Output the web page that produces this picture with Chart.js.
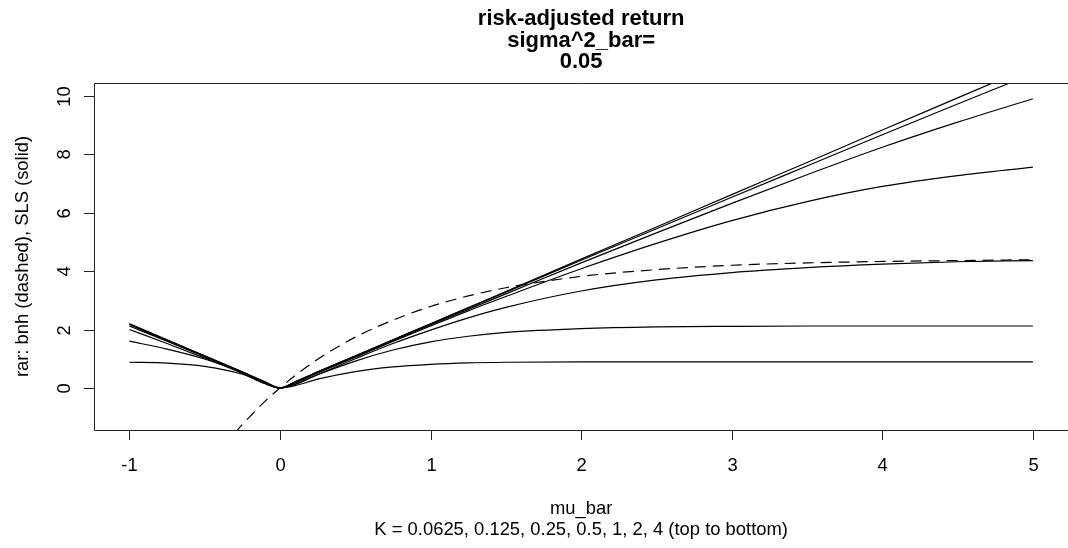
<!DOCTYPE html>
<html>
<head>
<meta charset="utf-8">
<script src="https://cdn.jsdelivr.net/npm/chart.js@4/dist/chart.umd.min.js"></script>
<style>
html,body{margin:0;padding:0;background:#fff;}
#wrap{width:1068px;height:548px;}
</style>
</head>
<body>
<div id="wrap"><canvas id="c" width="1068" height="548"></canvas></div>
<script>
// ---- data ----
const mu = [-1, -0.75, -0.5, -0.25, -0.1, 0, 0.1, 0.25, 0.5, 0.75, 1, 1.25, 1.5, 2, 2.5, 3, 3.5, 4, 4.5, 5];
const slsK0625 = [2.20, 1.65, 1.10, 0.55, 0.21, 0, 0.21, 0.55, 1.10, 1.65, 2.20, 2.75, 3.30, 4.41, 5.51, 6.62, 7.72, 8.83, 9.93, 11.03];
const slsK125  = [2.19, 1.64, 1.09, 0.54, 0.20, 0, 0.20, 0.54, 1.09, 1.64, 2.19, 2.73, 3.28, 4.37, 5.45, 6.53, 7.60, 8.67, 9.72, 10.76];
const slsK25   = [2.17, 1.62, 1.08, 0.54, 0.19, 0, 0.19, 0.54, 1.08, 1.62, 2.16, 2.69, 3.22, 4.28, 5.31, 6.32, 7.30, 8.24, 9.10, 9.90];
const slsK05   = [2.12, 1.60, 1.07, 0.52, 0.18, 0, 0.18, 0.51, 1.05, 1.59, 2.12, 2.64, 3.13, 4.08, 4.95, 5.73, 6.38, 6.90, 7.27, 7.56];
const slsK1    = [2.00, 1.52, 1.02, 0.50, 0.15, 0, 0.13, 0.46, 1.00, 1.52, 1.98, 2.40, 2.76, 3.32, 3.70, 3.95, 4.12, 4.24, 4.32, 4.36];
const slsK2    = [1.60, 1.33, 0.99, 0.52, 0.15, 0, 0.12, 0.45, 0.92, 1.30, 1.58, 1.77, 1.90, 2.03, 2.09, 2.11, 2.12, 2.12, 2.12, 2.12];
const slsK4    = [0.88, 0.85, 0.74, 0.47, 0.16, 0, 0.08, 0.30, 0.56, 0.72, 0.81, 0.86, 0.88, 0.89, 0.89, 0.89, 0.89, 0.89, 0.89, 0.89];
const bnhMu = [-0.3, -0.25, -0.2, -0.1, 0, 0.1, 0.25, 0.5, 0.75, 1, 1.25, 1.5, 2, 2.5, 3, 3.5, 4, 4.5, 5];
const bnh   = [-1.54, -1.25, -0.98, -0.46, 0, 0.42, 0.98, 1.74, 2.32, 2.79, 3.15, 3.43, 3.82, 4.05, 4.20, 4.28, 4.33, 4.36, 4.39];
const xTicks = [-1, 0, 1, 2, 3, 4, 5];
const yTicks = [0, 2, 4, 6, 8, 10];
const titleLines = ["risk-adjusted return", "sigma^2_bar=", "0.05"];
const xTitle = "mu_bar";
const xSub = "K = 0.0625, 0.125, 0.25, 0.5, 1, 2, 4 (top to bottom)";
const yTitle = "rar: bnh (dashed), SLS (solid)";

const FONT = '"Liberation Sans", Arial, Helvetica, sans-serif';
const pts = (xs, ys) => xs.map((x, i) => ({x: x, y: ys[i]}));
const solid = (ys) => ({
  data: pts(mu, ys), borderColor: '#000', borderWidth: 1.2, pointRadius: 0,
  cubicInterpolationMode: 'monotone', fill: false
});

const rPlot = {
  id: 'rPlot',
  afterDraw(chart) {
    const ctx = chart.ctx, a = chart.chartArea;
    const xs = chart.scales.x, ys = chart.scales.y;
    ctx.save();
    ctx.strokeStyle = '#222';
    ctx.lineWidth = 1;
    // box
    ctx.beginPath();
    ctx.rect(Math.round(a.left) + 0.5, Math.round(a.top) + 0.5, 2000, Math.round(a.bottom - a.top));
    ctx.stroke();
    ctx.fillStyle = '#000';
    ctx.font = '18.4px ' + FONT;
    // x ticks
    ctx.textAlign = 'center';
    ctx.textBaseline = 'alphabetic';
    xTicks.forEach(v => {
      const px = Math.round(xs.getPixelForValue(v)) + 0.5;
      ctx.beginPath();
      ctx.moveTo(px, a.bottom);
      ctx.lineTo(px, a.bottom + 10);
      ctx.stroke();
      ctx.fillText(String(v), px, 471);
    });
    // y ticks
    yTicks.forEach(v => {
      const py = Math.round(ys.getPixelForValue(v)) + 0.5;
      ctx.beginPath();
      ctx.moveTo(a.left, py);
      ctx.lineTo(a.left - 10, py);
      ctx.stroke();
      ctx.save();
      ctx.translate(70, py);
      ctx.rotate(-Math.PI / 2);
      ctx.textAlign = 'center';
      ctx.fillText(String(v), 0, 0);
      ctx.restore();
    });
    // axis titles
    const cx = (xs.getPixelForValue(-1.24) + xs.getPixelForValue(5.24)) / 2;
    ctx.textAlign = 'center';
    ctx.fillText(xTitle, cx, 514);
    ctx.fillText(xSub, cx, 535);
    ctx.save();
    ctx.translate(28, (a.top + a.bottom) / 2);
    ctx.rotate(-Math.PI / 2);
    ctx.fillText(yTitle, 0, 0);
    ctx.restore();
    // main title
    ctx.font = 'bold 22px ' + FONT;
    const tb = [25, 47, 68];
    titleLines.forEach((t, i) => ctx.fillText(t, cx, tb[i]));
    ctx.restore();
  }
};

new Chart(document.getElementById('c'), {
  type: 'line',
  data: {
    datasets: [
      solid(slsK0625), solid(slsK125), solid(slsK25), solid(slsK05),
      solid(slsK1), solid(slsK2), solid(slsK4),
      { data: pts(bnhMu, bnh), borderColor: '#000', borderWidth: 1.2, borderDash: [11, 7],
        pointRadius: 0, cubicInterpolationMode: 'monotone', fill: false }
    ]
  },
  options: {
    responsive: false,
    animation: false,
    layout: { padding: { left: 94, right: 0, top: 83, bottom: 118 } },
    plugins: { legend: { display: false }, tooltip: { enabled: false }, title: { display: false } },
    scales: {
      x: { type: 'linear', display: false, min: -1.235, max: 5.233 },
      y: { type: 'linear', display: false, min: -1.44, max: 10.44 }
    }
  },
  plugins: [rPlot]
});
</script>
</body>
</html>
